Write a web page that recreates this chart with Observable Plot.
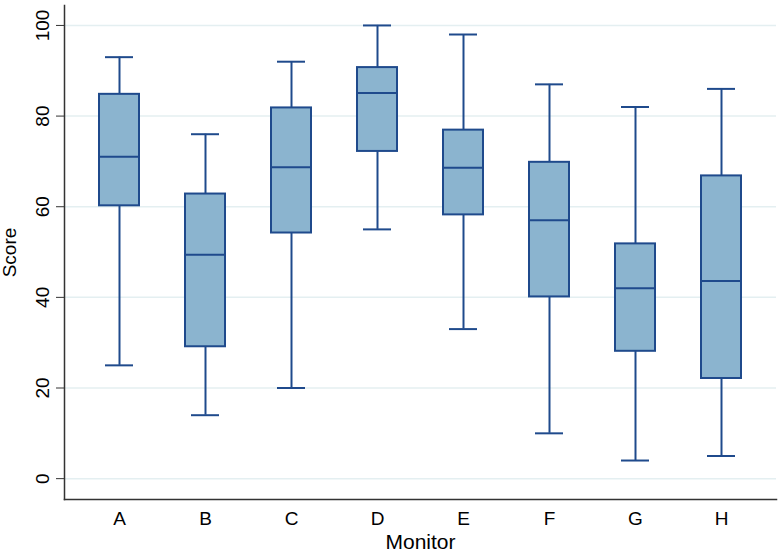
<!DOCTYPE html>
<html>
<head>
<meta charset="utf-8">
<script src="https://cdn.jsdelivr.net/npm/d3@7"></script>
<script src="https://cdn.jsdelivr.net/npm/@observablehq/plot@0.6"></script>
<style>
  html, body { margin: 0; padding: 0; background: #ffffff; }
  #chart svg, #chart svg text { font-family: "Liberation Sans", Arial, Helvetica, sans-serif !important; font-size: 19px !important; }
  #chart svg g[aria-label="x-axis label"] text { font-size: 21px !important; }
</style>
</head>
<body>
<div id="chart"></div>
<script>
const monitors    = ["A", "B", "C", "D", "E", "F", "G", "H"];
const whiskerLow  = [25, 14, 20, 55, 33, 10, 4, 5];
const q1          = [60.2, 29.1, 54.2, 72.2, 58.2, 40.1, 28.1, 22.1];
const medians     = [71, 49.4, 68.7, 85.1, 68.6, 57, 42, 43.6];
const q3          = [84.8, 62.8, 81.8, 90.7, 76.9, 69.8, 51.8, 66.8];
const whiskerHigh = [93, 76, 92, 100, 98, 87, 82, 86];
const yTicks      = [0, 20, 40, 60, 80, 100];

const boxes = monitors.map((m, i) => ({
  monitor: m,
  lo: whiskerLow[i],
  q1: q1[i],
  med: medians[i],
  q3: q3[i],
  hi: whiskerHigh[i]
}));

const line = "#1f4a8c";
const fill = "#8bb4cf";

const chart = Plot.plot({
  width: 780,
  height: 556,
  marginLeft: 64,
  marginRight: 4,
  marginTop: 5,
  marginBottom: 57,
  style: { background: "#ffffff", color: "#000" },
  x: { domain: monitors, paddingInner: 0.54, paddingOuter: 0.362, label: null },
  y: { domain: [-4.6, 104.4], label: null },
  marks: [
    Plot.gridY(yTicks, { stroke: "#e4eff1", strokeOpacity: 1, strokeWidth: 1.5 }),
    Plot.ruleX(boxes, { x: "monitor", y1: "lo", y2: "q1", stroke: line, strokeWidth: 2 }),
    Plot.ruleX(boxes, { x: "monitor", y1: "q3", y2: "hi", stroke: line, strokeWidth: 2 }),
    Plot.barY(boxes, { x: "monitor", y1: "q1", y2: "q3", fill: fill, stroke: line, strokeWidth: 2 }),
    Plot.tickY(boxes, { x: "monitor", y: "med", stroke: line, strokeWidth: 2 }),
    Plot.tickY(boxes, { x: "monitor", y: "lo", stroke: line, strokeWidth: 2, insetLeft: 6, insetRight: 6 }),
    Plot.tickY(boxes, { x: "monitor", y: "hi", stroke: line, strokeWidth: 2, insetLeft: 6, insetRight: 6 }),
    Plot.frame({ anchor: "left", stroke: "#333", strokeWidth: 1.5 }),
    Plot.frame({ anchor: "bottom", stroke: "#333", strokeWidth: 1.5 }),
    Plot.axisY(yTicks, {
      tickSize: 8, tickPadding: 8, tickRotate: -90, stroke: "#333",
      label: "Score", labelAnchor: "center", labelOffset: 62, labelArrow: "none"
    }),
    Plot.axisX({
      tickSize: 0, tickPadding: 12,
      label: "Monitor", labelAnchor: "center", labelOffset: 49, labelArrow: "none"
    })
  ]
});

document.getElementById("chart").appendChild(chart);
</script>
</body>
</html>
